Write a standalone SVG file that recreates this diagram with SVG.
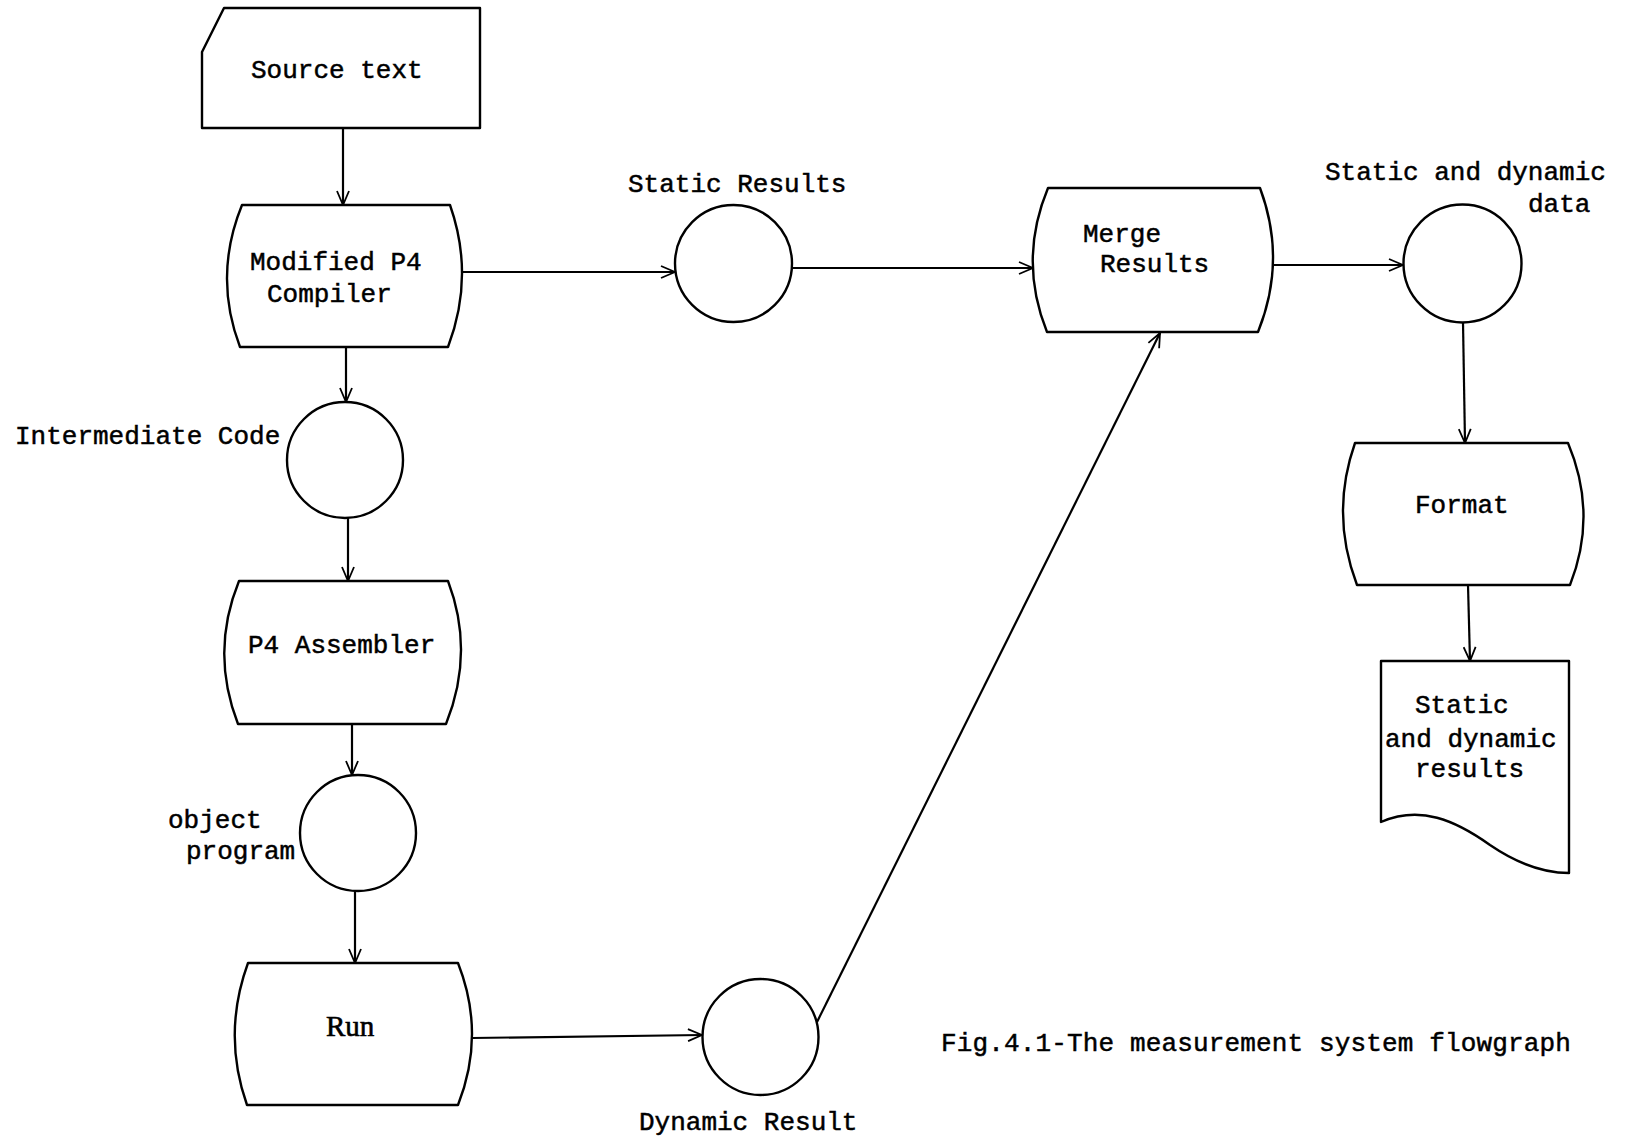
<svg xmlns="http://www.w3.org/2000/svg" width="1633" height="1140" viewBox="0 0 1633 1140">
<defs>
<marker id="arr" viewBox="0 0 16 14" refX="15" refY="7" markerWidth="16" markerHeight="14" markerUnits="userSpaceOnUse" orient="auto">
<path d="M1,1 L15,7 L1,13" fill="none" stroke="#000" stroke-width="1.8"/>
</marker>
<style>
.shape{fill:#fff;stroke:#000;stroke-width:2.4;stroke-linejoin:round}
.conn{fill:none;stroke:#000;stroke-width:2.2;marker-end:url(#arr)}
.t{font-family:"Liberation Mono","Courier New",monospace;font-size:26px;fill:#000;stroke:#000;stroke-width:0.5}
.s{font-family:"Liberation Serif","Times New Roman",serif;font-size:29px;fill:#000;stroke:#000;stroke-width:0.6}
</style>
</defs>
<rect width="1633" height="1140" fill="#fff"/>
<g id="connectors">
<path class="conn" d="M343,127 L343,205"/>
<path class="conn" d="M346,347 L346,402"/>
<path class="conn" d="M348,518 L348,581"/>
<path class="conn" d="M352,724 L352,775"/>
<path class="conn" d="M355,891 L355,963"/>
<path class="conn" d="M472,1038 L702,1035"/>
<path class="conn" d="M817,1022 L1160,333"/>
<path class="conn" d="M462,272 L675,272"/>
<path class="conn" d="M792,268 L1033,268"/>
<path class="conn" d="M1273,265 L1403,265"/>
<path class="conn" d="M1463,322 L1465,443"/>
<path class="conn" d="M1468,585 L1470,661"/>
</g>
<g id="source-text">
<path class="shape" d="M224,8 L480,8 L480,128 L202,128 L202,52 Z"/>
<text class="t" x="251" y="78">Source text</text>
</g>
<g id="compiler">
<path class="shape" d="M242,205 L450,205 Q475,276 448,347 L240,347 Q213,276 242,205 Z"/>
<text class="t" x="250" y="270">Modified P4</text>
<text class="t" x="267" y="302">Compiler</text>
</g>
<g id="intermediate-code">
<circle class="shape" cx="345" cy="460" r="58"/>
<text class="t" x="15" y="444">Intermediate Code</text>
</g>
<g id="assembler">
<path class="shape" d="M239,581 L448,581 Q475,652 446,724 L238,724 Q210,652 239,581 Z"/>
<text class="t" x="248" y="653">P4 Assembler</text>
</g>
<g id="object-program">
<circle class="shape" cx="358" cy="833" r="58"/>
<text class="t" x="168" y="828">object</text>
<text class="t" x="186" y="859">program</text>
</g>
<g id="run">
<path class="shape" d="M248,963 L458,963 Q486,1034 458,1105 L247,1105 Q222,1034 248,963 Z"/>
<text class="s" x="326" y="1036">Run</text>
</g>
<g id="dynamic-result">
<circle class="shape" cx="760.5" cy="1037" r="58"/>
<text class="t" x="639" y="1130">Dynamic Result</text>
</g>
<g id="static-results">
<circle class="shape" cx="733.5" cy="263.5" r="58.5"/>
<text class="t" x="628" y="192">Static Results</text>
</g>
<g id="merge">
<path class="shape" d="M1048,188 L1260,188 Q1287,260 1258,332 L1047,332 Q1018,260 1048,188 Z"/>
<text class="t" x="1083" y="242">Merge</text>
<text class="t" x="1100" y="272">Results</text>
</g>
<g id="static-dynamic-data">
<circle class="shape" cx="1462.5" cy="263.5" r="59"/>
<text class="t" x="1325" y="180">Static and dynamic</text>
<text class="t" x="1528" y="212">data</text>
</g>
<g id="format">
<path class="shape" d="M1355,443 L1568,443 Q1598,514 1570,585 L1357,585 Q1330,514 1355,443 Z"/>
<text class="t" x="1415" y="513">Format</text>
</g>
<g id="results-document">
<path class="shape" d="M1381,661 L1569,661 L1569,873 C1540,873 1515,862 1490,845 C1455,820 1420,805 1381,822 Z"/>
<text class="t" x="1415" y="713">Static</text>
<text class="t" x="1385" y="747">and dynamic</text>
<text class="t" x="1415" y="777">results</text>
</g>
<g id="caption">
<text class="t" x="941" y="1051" letter-spacing="0.15">Fig.4.1-The measurement system flowgraph</text>
</g>
</svg>
